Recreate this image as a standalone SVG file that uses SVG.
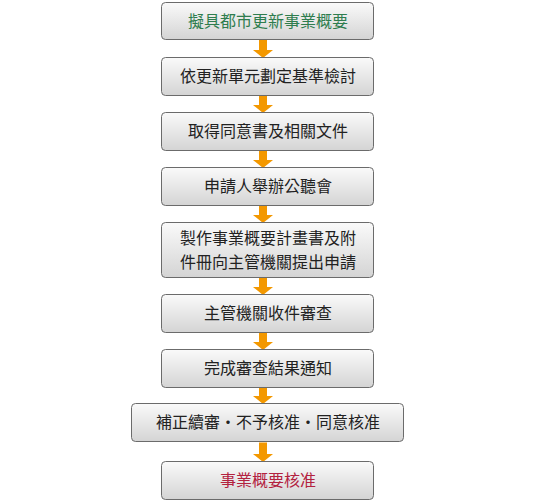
<svg xmlns="http://www.w3.org/2000/svg" width="535" height="500" viewBox="0 0 535 500">
<style>
.box{fill:url(#g);stroke:#6b6b6b;stroke-width:1}
.t{font-family:"Noto Sans CJK TC","Noto Sans CJK SC",sans-serif;font-size:16px;fill:#222;text-anchor:middle}
.arr{fill:#f39800}
</style>
<defs>
<linearGradient id="g" x1="0" y1="0" x2="0" y2="1">
<stop offset="0" stop-color="#fafafa"/>
<stop offset="1" stop-color="#d4d4d4"/>
</linearGradient>
</defs>
<rect width="535" height="500" fill="#fff"/>
<g id="connectors">
<path class="arr" d="M259,39.5h8v10.5h6l-10,8l-10,-8h6z"/>
<path class="arr" d="M259,95.5h8v9.5h6l-10,8l-10,-8h6z"/>
<path class="arr" d="M259,150.5h8v9.5h6l-10,8l-10,-8h6z"/>
<path class="arr" d="M259,205.5h8v9.5h6l-10,8l-10,-8h6z"/>
<path class="arr" d="M259,277.5h8v9.5h6l-10,8l-10,-8h6z"/>
<path class="arr" d="M259,332.5h8v9.5h6l-10,8l-10,-8h6z"/>
<path class="arr" d="M259,387.5h8v8.5h6l-10,8l-10,-8h6z"/>
<path class="arr" d="M259,442.5h8v11.5h6l-10,8l-10,-8h6z"/>
</g>
<g id="n1"><rect class="box" x="161.5" y="2.5" width="212" height="37" rx="4"/><text class="t" x="268" y="27" style="fill:#2e7d4e">擬具都市更新事業概要</text></g>
<g id="n2"><rect class="box" x="161.5" y="57.5" width="212" height="38" rx="4"/><text class="t" x="268" y="82">依更新單元劃定基準檢討</text></g>
<g id="n3"><rect class="box" x="161.5" y="112.5" width="212" height="38" rx="4"/><text class="t" x="268" y="137">取得同意書及相關文件</text></g>
<g id="n4"><rect class="box" x="161.5" y="167.5" width="212" height="38" rx="4"/><text class="t" x="268" y="192">申請人舉辦公聽會</text></g>
<g id="n5"><rect class="box" x="161.5" y="222.5" width="212" height="55" rx="4"/><text class="t" x="268" y="244">製作事業概要計畫書及附</text><text class="t" x="268" y="267.5">件冊向主管機關提出申請</text></g>
<g id="n6"><rect class="box" x="161.5" y="294.5" width="212" height="38" rx="4"/><text class="t" x="268" y="319">主管機關收件審查</text></g>
<g id="n7"><rect class="box" x="161.5" y="349.5" width="212" height="38" rx="4"/><text class="t" x="268" y="374">完成審查結果通知</text></g>
<g id="n8"><rect class="box" x="131.5" y="403.5" width="272" height="38" rx="4"/><text class="t" x="268" y="428">補正續審・不予核准・同意核准</text></g>
<g id="n9"><rect class="box" x="161.5" y="461.5" width="212" height="38" rx="4"/><text class="t" x="268" y="486" style="fill:#b3223f">事業概要核准</text></g>
</svg>
